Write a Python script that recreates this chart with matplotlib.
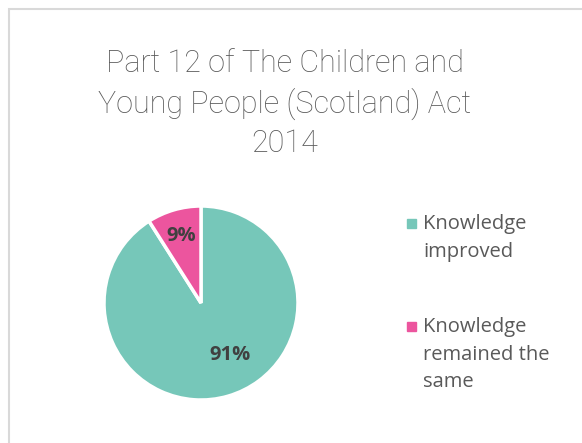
import matplotlib.pyplot as plt
from matplotlib.patches import Rectangle

# chart data
labels = ['Knowledge\nimproved', 'Knowledge\nremained the\nsame']
values = [91, 9]
colors = ['#76C7B9', '#EC559E']
title = 'Part 12 of The Children and\nYoung People (Scotland) Act\n2014'

W, H = 582, 443
fig = plt.figure(figsize=(W / 100, H / 100), dpi=100)

# light grey chart frame (cropped on the right and bottom)
fig.patches.append(Rectangle((9 / W, -0.1), 1.2, 1 - 9 / H + 0.1,
                             transform=fig.transFigure, fill=False,
                             edgecolor='#D9D9D9', linewidth=1.5))

fig.text(285 / W, 1 - 49 / H, title, ha='center', va='top',
         family='Roboto', weight='light', fontsize=22, color='#595959',
         linespacing=1.4, multialignment='center')

# pie area: centre (201, 303), radius 97 px
ax = fig.add_axes([104 / W, 1 - 400 / H, 194 / W, 194 / H])
wedges, texts, autotexts = ax.pie(
    values, colors=colors, startangle=90, counterclock=False,
    autopct='%d%%', pctdistance=0.72,
    wedgeprops=dict(edgecolor='white', linewidth=2.5),
    textprops=dict(family='Open Sans', weight='bold', fontsize=14.5,
                   color='#404040'))
autotexts[0].set_position((0.30, -0.54))
ax.set_xlim(-1, 1)
ax.set_ylim(-1, 1)

# legend, square aligned with the first line of each entry
for i, (lab, col) in enumerate(zip(labels, colors)):
    y = 223 + i * 103
    fig.patches.append(Rectangle((407 / W, 1 - (y + 4.5) / H), 9 / W, 9 / H,
                                 transform=fig.transFigure, color=col))
    fig.text(423 / W, 1 - (y - 9) / H, lab, ha='left', va='top',
             family='Open Sans', fontsize=14.5, color='#595959',
             linespacing=1.5)

fig.savefig('out.png', dpi=100)
